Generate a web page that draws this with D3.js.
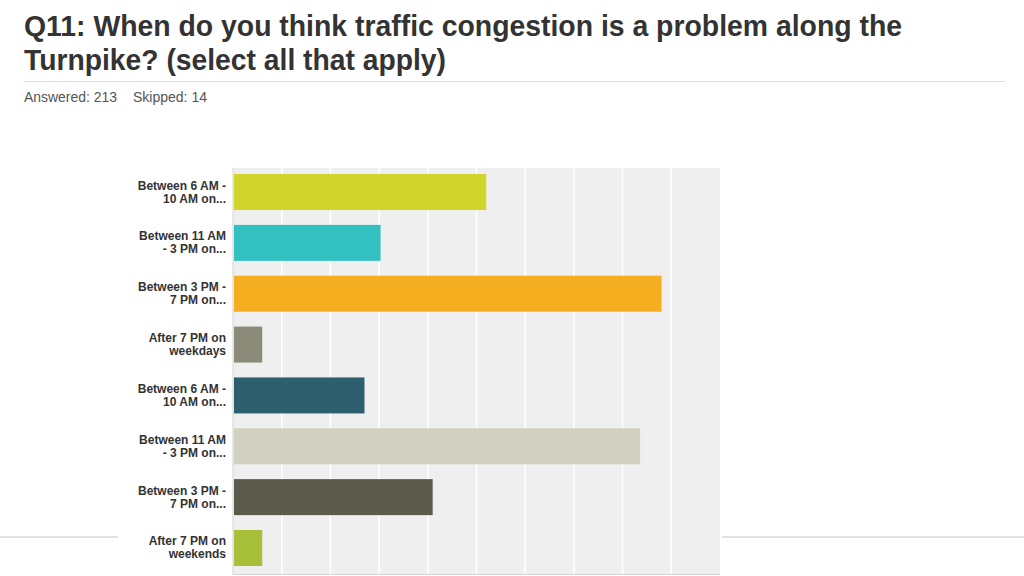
<!DOCTYPE html>
<html><head><meta charset="utf-8">
<script src="https://cdn.jsdelivr.net/npm/d3@7"></script>
<style>body{margin:0;background:#fff}svg{display:block}</style>
</head><body>
<svg id="c" width="1024" height="576"></svg>
<script>
const categories = [
  ["Between 6 AM -","10 AM on..."],
  ["Between 11 AM","- 3 PM on..."],
  ["Between 3 PM -","7 PM on..."],
  ["After 7 PM on","weekdays"],
  ["Between 6 AM -","10 AM on..."],
  ["Between 11 AM","- 3 PM on..."],
  ["Between 3 PM -","7 PM on..."],
  ["After 7 PM on","weekends"]
];
const values = [52, 30.3, 88, 6, 27, 83.6, 41, 6];
const colors = ["#cfd52b","#33c0c1","#f5ae20","#8b8b79","#2e5f6e","#d1d0c1","#5b5a4b","#a8bf3a"];
const xTicks = [0,10,20,30,40,50,60,70,80,90,100];

(function(){
const svg = d3.select("#c");
const font = "'Liberation Sans', Arial, sans-serif";

svg.append("line").attr("x1",0).attr("x2",1024).attr("y1",537).attr("y2",537).attr("stroke","#d8d8d8").attr("stroke-width",1.5);

const title = svg.append("g").attr("font-family",font).attr("font-weight","bold").attr("fill","#333").attr("font-size",29);
title.append("text").attr("x",24).attr("y",36).attr("textLength",878).attr("lengthAdjust","spacingAndGlyphs")
  .text("Q11: When do you think traffic congestion is a problem along the");
title.append("text").attr("x",24).attr("y",70).attr("textLength",422).attr("lengthAdjust","spacingAndGlyphs")
  .text("Turnpike? (select all that apply)");
svg.append("line").attr("x1",24).attr("x2",1005).attr("y1",81.5).attr("y2",81.5).attr("stroke","#dcdcdc");
const sub = svg.append("g").attr("font-family",font).attr("font-size",14).attr("fill","#555");
sub.append("text").attr("x",24).attr("y",102).attr("textLength",93).attr("lengthAdjust","spacingAndGlyphs").text("Answered: 213");
sub.append("text").attr("x",133).attr("y",102).attr("textLength",74).attr("lengthAdjust","spacingAndGlyphs").text("Skipped: 14");

const pL = 233, pR = 720, pT = 168, pB = 575;
svg.append("rect").attr("x",118).attr("y",160).attr("width",604).attr("height",416).attr("fill","#fff");

const x = d3.scaleLinear().domain([0,100]).range([pL,pR]);
const y = d3.scaleBand().domain(d3.range(values.length)).range([pT,572]).paddingInner(0.292).paddingOuter(0.118);

svg.append("rect").attr("x",pL).attr("y",pT).attr("width",pR-pL).attr("height",pB-pT).attr("fill","#efefef");
svg.append("g").selectAll("line").data(xTicks.slice(1,-1)).join("line")
  .attr("x1",d=>x(d)).attr("x2",d=>x(d)).attr("y1",pT).attr("y2",pB)
  .attr("stroke","#fff").attr("stroke-width",1.5);
svg.append("line").attr("x1",pL).attr("x2",pL).attr("y1",pT).attr("y2",pB).attr("stroke","#d4d4d4");
svg.append("line").attr("x1",pL).attr("x2",pR).attr("y1",pB-0.5).attr("y2",pB-0.5).attr("stroke","#d4d4d4");

svg.append("g").selectAll("rect").data(values).join("rect")
  .attr("x",x(0)+1).attr("y",(d,i)=>y(i)).attr("height",y.bandwidth())
  .attr("width",d=>x(d)-x(0)-1).attr("fill",(d,i)=>colors[i]);

const lab = svg.append("g").attr("font-family",font).attr("font-weight","bold").attr("font-size",12).attr("fill","#333").attr("text-anchor","end");
categories.forEach((c,i)=>{
  const cy = y(i)+y.bandwidth()/2;
  lab.append("text").attr("x",226).attr("y",cy-2.5).text(c[0]);
  lab.append("text").attr("x",226).attr("y",cy+10.5).text(c[1]);
});
})();
</script>
</body></html>
